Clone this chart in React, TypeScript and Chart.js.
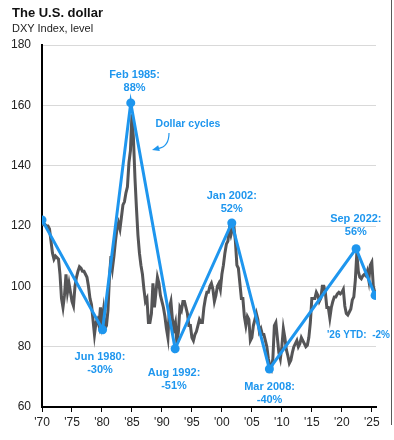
import React, { useEffect, useRef } from "react";
import { Chart, registerables } from "chart.js";

Chart.register(...registerables);

// Quarterly DXY readings (Q1..Q4 of each year)
const startYear = 1970;
const dxy1970s = [
  120.5, 120.5, 120.5, 120, 120, 119, 115, 111, 109, 110, 109.5, 109,
  104, 96, 93, 97, 104, 98, 101, 98, 95, 93.5, 100, 103,
  105, 106.5, 106, 105, 105, 104, 103, 100, 96, 94, 89, 84,
  88, 89, 87, 93,
];
const dxy1980s = [
  88, 92, 86, 87, 92, 103, 110, 106, 110, 115, 119, 121,
  119, 123, 127, 128, 131, 133, 141, 145, 157, 149, 136, 126,
  117, 111, 107, 104, 99, 95, 96, 88, 88, 91, 101, 93,
  98, 103, 101, 97,
];
const dxy1990s = [
  95, 93, 90, 86, 83, 93, 95, 89, 86, 88, 81, 85,
  93, 92, 95, 95, 93, 91, 87, 87, 83, 82, 84, 85,
  87, 89, 88, 88, 93, 96, 98, 98, 100, 101, 99, 95,
  97, 100, 101, 99,
];
const dxy2000s = [
  104, 107, 111, 114, 115, 119, 117, 119, 120, 115, 107, 106,
  101, 96, 96, 90, 87, 90, 89, 82, 83, 87, 89, 91,
  89, 85, 86, 84, 84, 82, 80, 76, 73.5, 72.5, 76, 87,
  88, 83, 78, 76,
];
const dxy2010s = [
  80, 86, 83, 79, 77, 74.5, 75.5, 78, 80, 81, 82, 80,
  81, 83, 82, 81, 80, 80.5, 83, 88, 96, 96, 96, 98,
  97, 95, 96, 100, 100, 98, 93, 93, 89.5, 93, 95, 96.5,
  96.5, 97.5, 98, 97.5,
];
const dxy2020s = [
  98, 99, 93.5, 91, 90.5, 91.5, 92.5, 95.5, 96.5, 102, 111, 105,
  103, 102.5, 103.5, 104, 103.5, 105, 102, 107, 108, 100, 98,
];

// Dollar cycle turning points
const cycleDates = [1970.0, 1980.1, 1984.8, 1992.2, 2001.65, 2007.92, 2022.38, 2025.55];
const cycleValues = [122, 85.6, 160.8, 79.3, 121, 72.6, 112.5, 97];

// Annotation texts and their anchors (year, index level)
const annotationTexts = [
  ["Feb 1985:", "88%"],
  ["Jun 1980:", "-30%"],
  ["Aug 1992:", "-51%"],
  ["Jan 2002:", "52%"],
  ["Mar 2008:", "-40%"],
  ["Sep 2022:", "56%"],
  ["'26 YTD:  -2%"],
];
const annotationYears = [1985.43, 1979.67, 1992.02, 2001.64, 2007.95, 2022.34, 2022.78];
const annotationLevels = [170.1, 76.5, 71.2, 130.0, 66.5, 122.3, 83.9];
const cyclesLabel = "Dollar cycles";
const cyclesLabelYear = 1994.35;
const cyclesLabelLevel = 153.8;

const yTickValues = [60, 80, 100, 120, 140, 160, 180];
const xTickYears = [1970, 1975, 1980, 1985, 1990, 1995, 2000, 2005, 2010, 2015, 2020, 2025];

const BLUE = "#1e96ee";
const GRAY = "#555557";
const FONT = "'Liberation Sans', Arial, Helvetica, sans-serif";

export default function App() {
  const canvasRef = useRef<HTMLCanvasElement | null>(null);

  useEffect(() => {
    const canvas = canvasRef.current;
    if (!canvas) return;

    const allQuarterly = [...dxy1970s, ...dxy1980s, ...dxy1990s, ...dxy2000s, ...dxy2010s, ...dxy2020s];
    const grayData = allQuarterly.map((v, i) => ({ x: startYear + i / 4, y: v }));
    const blueData = cycleDates.map((d, i) => ({ x: d, y: cycleValues[i] }));

    const annotationPlugin = {
      id: "annotations",
      afterDatasetsDraw(chart: any) {
        const ctx = chart.ctx;
        const xs = chart.scales.x;
        const ys = chart.scales.y;
        ctx.save();
        ctx.fillStyle = BLUE;
        ctx.textAlign = "center";
        ctx.textBaseline = "middle";
        ctx.font = `bold 11px ${FONT}`;
        annotationTexts.forEach((lines, i) => {
          const px = xs.getPixelForValue(annotationYears[i]);
          const py = ys.getPixelForValue(annotationLevels[i]);
          lines.forEach((t, j) => {
            if (lines.length === 1) ctx.fillText(t, px, py + j * 13, 63);
            else ctx.fillText(t, px, py + j * 13);
          });
        });
        // "Dollar cycles" label with curved arrow
        const cx = xs.getPixelForValue(cyclesLabelYear);
        const cy = ys.getPixelForValue(cyclesLabelLevel);
        ctx.font = `bold 10.5px ${FONT}`;
        ctx.fillText(cyclesLabel, cx, cy);
        ctx.strokeStyle = BLUE;
        ctx.lineWidth = 1.2;
        ctx.beginPath();
        ctx.moveTo(cx - 19, cy + 9);
        ctx.quadraticCurveTo(cx - 19, cy + 23, cx - 30, cy + 24.5);
        ctx.stroke();
        const tipX = cx - 36, tipY = cy + 26;
        const bx = cx - 29, by = cy + 24;
        const dx = tipX - bx, dy = tipY - by;
        const len = Math.hypot(dx, dy);
        const nx = -dy / len * 3, ny = dx / len * 3;
        ctx.beginPath();
        ctx.moveTo(tipX, tipY);
        ctx.lineTo(bx + nx, by + ny);
        ctx.lineTo(bx - nx, by - ny);
        ctx.closePath();
        ctx.fill();
        ctx.restore();
      },
    };

    const chart = new Chart(canvas, {
      type: "line",
      data: {
        datasets: [
          {
            label: "Dollar cycles",
            data: blueData,
            borderColor: BLUE,
            backgroundColor: BLUE,
            borderWidth: 3,
            pointRadius: 4.5,
            pointBorderWidth: 0,
            pointBackgroundColor: BLUE,
            tension: 0,
          },
          {
            label: "DXY",
            data: grayData,
            borderColor: GRAY,
            borderWidth: 3,
            pointRadius: 0,
            tension: 0,
          },
        ],
      },
      options: {
        animation: false,
        responsive: false,
        layout: { padding: { top: 45, right: 18, left: 0, bottom: 0 } },
        plugins: {
          legend: { display: false },
          tooltip: { enabled: false },
          title: { display: false },
        },
        scales: {
          x: {
            type: "linear",
            min: 1970,
            max: 2025.7,
            afterBuildTicks: (scale: any) => {
              scale.ticks = xTickYears.map((v) => ({ value: v }));
            },
            afterFit: (scale: any) => {
              scale.height = 33;
            },
            ticks: {
              autoSkip: false,
              maxRotation: 0,
              padding: 3,
              color: "#222",
              font: { size: 12, family: FONT },
              callback: (v: any) => "'" + String(v).slice(2),
            },
            grid: {
              display: true,
              drawOnChartArea: false,
              drawTicks: true,
              tickLength: 5,
              color: "#000",
              lineWidth: 1,
            },
            border: { display: true, color: "#000", width: 2 },
          },
          y: {
            min: 60,
            max: 180,
            afterBuildTicks: (scale: any) => {
              scale.ticks = yTickValues.map((v) => ({ value: v }));
            },
            afterFit: (scale: any) => {
              scale.width = 42;
            },
            ticks: {
              padding: 11,
              color: "#222",
              font: { size: 12, family: FONT },
            },
            grid: { color: "#d9d9d9", lineWidth: 1, drawTicks: false },
            border: { display: true, color: "#000", width: 2 },
          },
        },
      },
      plugins: [annotationPlugin],
    });

    return () => chart.destroy();
  }, []);

  return (
    <div
      style={{
        position: "fixed",
        left: 0,
        top: 0,
        width: 394,
        height: 440,
        background: "#fff",
        fontFamily: FONT,
        overflow: "hidden",
      }}
    >
      <canvas
        ref={canvasRef}
        width={394}
        height={440}
        style={{ position: "absolute", left: 0, top: 0, width: 394, height: 440 }}
      />
      <div
        style={{
          position: "absolute",
          left: 12,
          top: 4.5,
          fontSize: 13,
          lineHeight: "15px",
          fontWeight: "bold",
          color: "#111",
          whiteSpace: "nowrap",
        }}
      >
        The U.S. dollar
      </div>
      <div
        style={{
          position: "absolute",
          left: 12,
          top: 22,
          fontSize: 11,
          lineHeight: "13px",
          color: "#222",
          whiteSpace: "nowrap",
        }}
      >
        DXY Index, level
      </div>
      <div
        style={{
          position: "absolute",
          left: 391,
          top: 0,
          width: 1,
          height: 425,
          background: "#5a5a5a",
        }}
      />
    </div>
  );
}
